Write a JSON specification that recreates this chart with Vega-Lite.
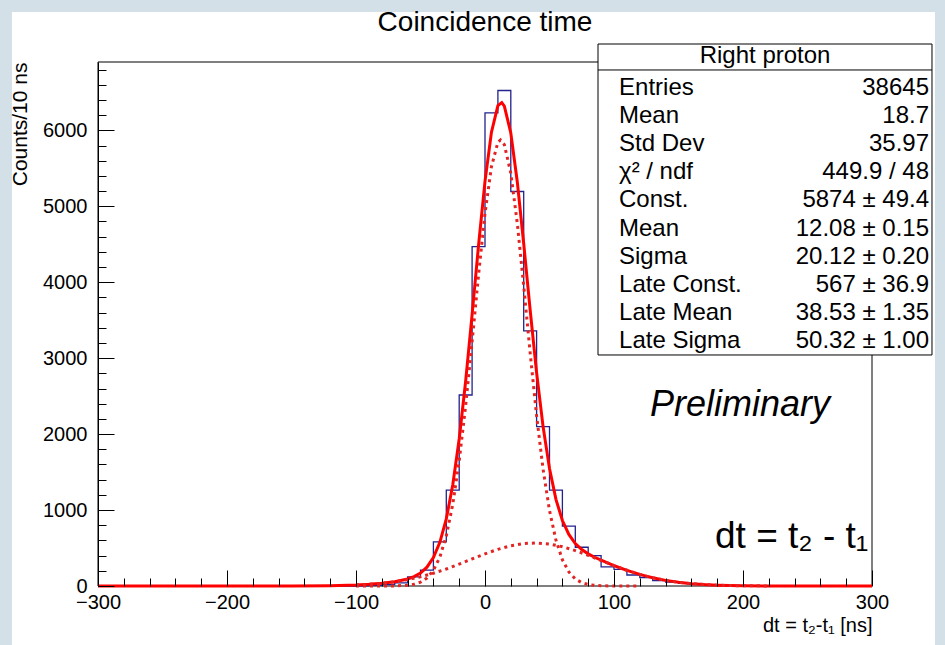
{
  "$schema": "https://vega.github.io/schema/vega-lite/v6.json",
  "width": 774,
  "height": 524,
  "autosize": {"type": "none"},
  "padding": {"left": 98, "top": 62, "right": 73, "bottom": 59},
  "background": "#d4e0e7",
  "config": {"font": "Liberation Sans", "view": {"stroke": null}, "axis": {"zindex": 1}},
  "title": {"text": "Coincidence time", "fontSize": 28, "fontWeight": "normal", "color": "#000000", "anchor": "middle", "frame": "group", "offset": 0, "dy": 47, "baseline": "alphabetic", "zindex": 1},
  "datasets": {
    "hist": [
      {"t": -300, "n": 0}, {"t": -100, "n": 3}, {"t": -90, "n": 8}, {"t": -80, "n": 18}, {"t": -70, "n": 40},
      {"t": -60, "n": 120}, {"t": -50, "n": 210}, {"t": -40, "n": 580}, {"t": -30, "n": 1262}, {"t": -20, "n": 2515},
      {"t": -10, "n": 4470}, {"t": 0, "n": 6230}, {"t": 10, "n": 6525}, {"t": 20, "n": 5195}, {"t": 30, "n": 3360},
      {"t": 40, "n": 2098}, {"t": 50, "n": 1262}, {"t": 60, "n": 788}, {"t": 70, "n": 510}, {"t": 80, "n": 400},
      {"t": 90, "n": 252}, {"t": 100, "n": 220}, {"t": 110, "n": 145}, {"t": 120, "n": 112}, {"t": 130, "n": 72},
      {"t": 140, "n": 52}, {"t": 150, "n": 36}, {"t": 160, "n": 22}, {"t": 170, "n": 15}, {"t": 180, "n": 7},
      {"t": 190, "n": 3}, {"t": 200, "n": 0}, {"t": 300, "n": 0}
    ],
    "fit": [
      {"t": -300, "comp": "total", "y": 0}, {"t": -200, "comp": "total", "y": 0}, {"t": -150, "comp": "total", "y": 0.5},
      {"t": -120, "comp": "total", "y": 4}, {"t": -100, "comp": "total", "y": 12.8}, {"t": -90, "comp": "total", "y": 21.7},
      {"t": -80, "comp": "total", "y": 35.6}, {"t": -70, "comp": "total", "y": 56.8}, {"t": -60, "comp": "total", "y": 93},
      {"t": -55, "comp": "total", "y": 123.4}, {"t": -50, "comp": "total", "y": 170.9}, {"t": -45, "comp": "total", "y": 247.9},
      {"t": -40, "comp": "total", "y": 373.8}, {"t": -35, "comp": "total", "y": 574.9}, {"t": -30, "comp": "total", "y": 883.9},
      {"t": -25, "comp": "total", "y": 1330.5}, {"t": -20, "comp": "total", "y": 1936.3}, {"t": -15, "comp": "total", "y": 2696},
      {"t": -10, "comp": "total", "y": 3573}, {"t": -5, "comp": "total", "y": 4487}, {"t": 0, "comp": "total", "y": 5328},
      {"t": 5, "comp": "total", "y": 5976}, {"t": 10, "comp": "total", "y": 6326}, {"t": 13, "comp": "total", "y": 6366},
      {"t": 15, "comp": "total", "y": 6320}, {"t": 20, "comp": "total", "y": 5966}, {"t": 25, "comp": "total", "y": 5327},
      {"t": 30, "comp": "total", "y": 4510}, {"t": 35, "comp": "total", "y": 3636}, {"t": 40, "comp": "total", "y": 2810},
      {"t": 45, "comp": "total", "y": 2102}, {"t": 50, "comp": "total", "y": 1546.5}, {"t": 55, "comp": "total", "y": 1141},
      {"t": 60, "comp": "total", "y": 862}, {"t": 65, "comp": "total", "y": 678.5}, {"t": 70, "comp": "total", "y": 559.5},
      {"t": 75, "comp": "total", "y": 480}, {"t": 80, "comp": "total", "y": 423.5}, {"t": 85, "comp": "total", "y": 378.4},
      {"t": 90, "comp": "total", "y": 339.3}, {"t": 95, "comp": "total", "y": 303.3}, {"t": 100, "comp": "total", "y": 269.3},
      {"t": 105, "comp": "total", "y": 236.9}, {"t": 110, "comp": "total", "y": 206.8}, {"t": 115, "comp": "total", "y": 178.7},
      {"t": 120, "comp": "total", "y": 152.9}, {"t": 125, "comp": "total", "y": 129.5}, {"t": 130, "comp": "total", "y": 108.7},
      {"t": 140, "comp": "total", "y": 74.2}, {"t": 150, "comp": "total", "y": 48.8}, {"t": 160, "comp": "total", "y": 30.8},
      {"t": 170, "comp": "total", "y": 18.7}, {"t": 180, "comp": "total", "y": 10.9}, {"t": 190, "comp": "total", "y": 6.1},
      {"t": 200, "comp": "total", "y": 3.3}, {"t": 220, "comp": "total", "y": 0.85}, {"t": 250, "comp": "total", "y": 0},
      {"t": 300, "comp": "total", "y": 0},
      {"t": -100, "comp": "core", "y": 0}, {"t": -80, "comp": "core", "y": 0.2}, {"t": -70, "comp": "core", "y": 1.4},
      {"t": -60, "comp": "core", "y": 9.6}, {"t": -55, "comp": "core", "y": 22.6}, {"t": -50, "comp": "core", "y": 50.3},
      {"t": -45, "comp": "core", "y": 105}, {"t": -40, "comp": "core", "y": 206}, {"t": -35, "comp": "core", "y": 380},
      {"t": -30, "comp": "core", "y": 660}, {"t": -25, "comp": "core", "y": 1075}, {"t": -20, "comp": "core", "y": 1648},
      {"t": -15, "comp": "core", "y": 2374}, {"t": -10, "comp": "core", "y": 3217}, {"t": -5, "comp": "core", "y": 4097},
      {"t": 0, "comp": "core", "y": 4905}, {"t": 5, "comp": "core", "y": 5522}, {"t": 10, "comp": "core", "y": 5843},
      {"t": 12, "comp": "core", "y": 5874}, {"t": 15, "comp": "core", "y": 5812}, {"t": 20, "comp": "core", "y": 5436},
      {"t": 25, "comp": "core", "y": 4780}, {"t": 30, "comp": "core", "y": 3951}, {"t": 35, "comp": "core", "y": 3070},
      {"t": 40, "comp": "core", "y": 2243}, {"t": 45, "comp": "core", "y": 1540}, {"t": 50, "comp": "core", "y": 994},
      {"t": 55, "comp": "core", "y": 604}, {"t": 60, "comp": "core", "y": 345}, {"t": 65, "comp": "core", "y": 185},
      {"t": 70, "comp": "core", "y": 93}, {"t": 75, "comp": "core", "y": 44}, {"t": 80, "comp": "core", "y": 20},
      {"t": 85, "comp": "core", "y": 8}, {"t": 90, "comp": "core", "y": 3}, {"t": 100, "comp": "core", "y": 0.4},
      {"t": 120, "comp": "core", "y": 0},
      {"t": -100, "comp": "late", "y": 12.8}, {"t": -90, "comp": "late", "y": 21.7}, {"t": -80, "comp": "late", "y": 35.4},
      {"t": -70, "comp": "late", "y": 55.4}, {"t": -60, "comp": "late", "y": 83.4}, {"t": -50, "comp": "late", "y": 120.6},
      {"t": -40, "comp": "late", "y": 167.8}, {"t": -30, "comp": "late", "y": 224.3}, {"t": -20, "comp": "late", "y": 288.3},
      {"t": -10, "comp": "late", "y": 356.1}, {"t": 0, "comp": "late", "y": 422.9}, {"t": 10, "comp": "late", "y": 482.8},
      {"t": 20, "comp": "late", "y": 529.8}, {"t": 30, "comp": "late", "y": 558.9}, {"t": 40, "comp": "late", "y": 566.8},
      {"t": 50, "comp": "late", "y": 552.5}, {"t": 60, "comp": "late", "y": 517.7}, {"t": 70, "comp": "late", "y": 466.3},
      {"t": 80, "comp": "late", "y": 403.8}, {"t": 90, "comp": "late", "y": 336.1}, {"t": 100, "comp": "late", "y": 268.9},
      {"t": 110, "comp": "late", "y": 206.8}, {"t": 120, "comp": "late", "y": 152.9}, {"t": 130, "comp": "late", "y": 108.7},
      {"t": 140, "comp": "late", "y": 74.2}, {"t": 150, "comp": "late", "y": 48.8}, {"t": 160, "comp": "late", "y": 30.8},
      {"t": 170, "comp": "late", "y": 18.7}, {"t": 180, "comp": "late", "y": 10.9}, {"t": 190, "comp": "late", "y": 6.1},
      {"t": 200, "comp": "late", "y": 3.3}, {"t": 220, "comp": "late", "y": 0.85}
    ]
  },
  "layer": [
    {
      "data": {"values": [{}]},
      "mark": {"type": "rect", "fill": "#ffffff"},
      "encoding": {
        "x": {"datum": -366.7, "type": "quantitative", "scale": {"domain": [-300, 300], "nice": false, "zero": false}, "axis": null},
        "x2": {"datum": 348.8},
        "y": {"datum": 7558, "type": "quantitative", "scale": {"domain": [0, 6900], "nice": false}, "axis": null},
        "y2": {"datum": -777}
      }
    },
    {
      "data": {"values": [{}]},
      "mark": {"type": "rect", "filled": false, "stroke": "#000000", "strokeWidth": 1},
      "encoding": {
        "x": {"datum": -300, "type": "quantitative", "scale": {"domain": [-300, 300], "nice": false, "zero": false}, "axis": null},
        "x2": {"datum": 300},
        "y": {"datum": 0, "type": "quantitative", "scale": {"domain": [0, 6900], "nice": false}, "axis": null},
        "y2": {"datum": 6900}
      }
    },
    {
      "data": {"name": "hist"},
      "mark": {"type": "line", "interpolate": "step-after", "color": "#22238c", "strokeWidth": 1.3},
      "encoding": {
        "x": {"field": "t", "type": "quantitative", "scale": {"domain": [-300, 300], "nice": false, "zero": false},
          "axis": {"orient": "bottom", "zindex": 2, "values": [-300, -200, -100, 0, 100, 200, 300], "format": "d", "tickSize": -16, "tickColor": "#000000", "domain": false,
            "grid": false, "labelFontSize": 20, "labelColor": "#000000", "labelPadding": 22, "labelFlush": false, "labelOverlap": false,
            "title": "dt = t₂-t₁ [ns]", "titleFontSize": 20, "titleFontWeight": "normal", "titleColor": "#000000",
            "titleX": 774, "titleY": 45, "titleAlign": "right", "titleBaseline": "alphabetic", "titleAnchor": null}},
        "y": {"field": "n", "type": "quantitative", "scale": {"domain": [0, 6900], "nice": false},
          "axis": {"orient": "left", "zindex": 2, "values": [0, 1000, 2000, 3000, 4000, 5000, 6000], "format": "d", "tickSize": -16, "tickColor": "#000000", "domain": true,
            "domainColor": "#000000", "grid": false, "labelFontSize": 20, "labelColor": "#000000", "labelPadding": 27, "labelFlush": false, "labelOverlap": false,
            "title": "Counts/10 ns", "titleFontSize": 21, "titleFontWeight": "normal", "titleColor": "#000000", "titleAngle": 270,
            "titleX": -78, "titleY": 0, "titleAlign": "right", "titleBaseline": "middle", "titleAnchor": null}}
      }
    },
    {
      "data": {"name": "fit"},
      "transform": [{"filter": "datum.comp === 'total'"}],
      "mark": {"type": "line", "color": "#ff0000", "strokeWidth": 3},
      "encoding": {
        "x": {"field": "t", "type": "quantitative", "scale": {"domain": [-300, 300], "nice": false, "zero": false},
          "axis": {"orient": "bottom", "zindex": 2, "values": [-280, -260, -240, -220, -180, -160, -140, -120, -80, -60, -40, -20, 20, 40, 60, 80, 120, 140, 160, 180, 220, 240, 260, 280],
            "tickSize": -8, "tickColor": "#000000", "labels": false, "domain": false, "grid": false, "title": null}},
        "y": {"field": "y", "type": "quantitative", "scale": {"domain": [0, 6900], "nice": false},
          "axis": {"orient": "left", "zindex": 2, "values": [200, 400, 600, 800, 1200, 1400, 1600, 1800, 2200, 2400, 2600, 2800, 3200, 3400, 3600, 3800, 4200, 4400, 4600, 4800, 5200, 5400, 5600, 5800, 6200, 6400, 6600, 6800],
            "tickSize": -8, "tickColor": "#000000", "labels": false, "domain": false, "grid": false, "title": null}}
      }
    },
    {
      "data": {"name": "fit"},
      "transform": [{"filter": "datum.comp === 'core'"}],
      "mark": {"type": "line", "color": "#e32424", "strokeWidth": 3, "strokeDash": [3, 4]},
      "encoding": {
        "x": {"field": "t", "type": "quantitative", "scale": {"domain": [-300, 300], "nice": false, "zero": false}, "axis": null},
        "y": {"field": "y", "type": "quantitative", "scale": {"domain": [0, 6900], "nice": false}, "axis": null}
      }
    },
    {
      "data": {"name": "fit"},
      "transform": [{"filter": "datum.comp === 'late'"}],
      "mark": {"type": "line", "color": "#e32424", "strokeWidth": 3, "strokeDash": [3, 4]},
      "encoding": {
        "x": {"field": "t", "type": "quantitative", "scale": {"domain": [-300, 300], "nice": false, "zero": false}, "axis": null},
        "y": {"field": "y", "type": "quantitative", "scale": {"domain": [0, 6900], "nice": false}, "axis": null}
      }
    },
    {
      "data": {"values": [{}]},
      "mark": {"type": "rect", "fill": "#ffffff", "stroke": "#000000", "strokeWidth": 1},
      "encoding": {
        "x": {"datum": 87.6, "type": "quantitative", "scale": {"domain": [-300, 300], "nice": false, "zero": false}, "axis": null},
        "x2": {"datum": 346.5},
        "y": {"datum": 7137, "type": "quantitative", "scale": {"domain": [0, 6900], "nice": false}, "axis": null},
        "y2": {"datum": 3042}
      }
    },
    {
      "data": {"values": [{}]},
      "mark": {"type": "rule", "color": "#000000", "strokeWidth": 1},
      "encoding": {
        "x": {"datum": 87.6, "type": "quantitative", "scale": {"domain": [-300, 300], "nice": false, "zero": false}, "axis": null},
        "x2": {"datum": 346.5},
        "y": {"datum": 6795, "type": "quantitative", "scale": {"domain": [0, 6900], "nice": false}, "axis": null}
      }
    },
    {
      "data": {"values": [{}]},
      "mark": {"type": "text", "text": "Right proton", "fontSize": 24, "align": "center", "baseline": "alphabetic", "color": "#000000"},
      "encoding": {
        "x": {"datum": 217.1, "type": "quantitative", "scale": {"domain": [-300, 300], "nice": false, "zero": false}, "axis": null},
        "y": {"datum": 6887, "type": "quantitative", "scale": {"domain": [0, 6900], "nice": false}, "axis": null}
      }
    },
    {
      "data": {"values": [{}]},
      "mark": {"type": "text", "text": ["Entries", "Mean", "Std Dev", "χ² / ndf", "Const.", "Mean", "Sigma", "Late Const.", "Late Mean", "Late Sigma"],
        "fontSize": 24, "lineHeight": 28.2, "align": "left", "baseline": "alphabetic", "color": "#000000"},
      "encoding": {
        "x": {"datum": 103.9, "type": "quantitative", "scale": {"domain": [-300, 300], "nice": false, "zero": false}, "axis": null},
        "y": {"datum": 6472, "type": "quantitative", "scale": {"domain": [0, 6900], "nice": false}, "axis": null}
      }
    },
    {
      "data": {"values": [{}]},
      "mark": {"type": "text", "text": ["38645", "18.7", "35.97", "449.9 / 48", "5874 ± 49.4", "12.08 ± 0.15", "20.12 ± 0.20", "567 ± 36.9", "38.53 ± 1.35", "50.32 ± 1.00"],
        "fontSize": 24, "lineHeight": 28.2, "align": "right", "baseline": "alphabetic", "color": "#000000"},
      "encoding": {
        "x": {"datum": 344.2, "type": "quantitative", "scale": {"domain": [-300, 300], "nice": false, "zero": false}, "axis": null},
        "y": {"datum": 6472, "type": "quantitative", "scale": {"domain": [0, 6900], "nice": false}, "axis": null}
      }
    },
    {
      "data": {"values": [{}]},
      "mark": {"type": "text", "text": "Preliminary", "fontSize": 36, "fontStyle": "italic", "align": "left", "baseline": "alphabetic", "color": "#000000"},
      "encoding": {
        "x": {"datum": 127.9, "type": "quantitative", "scale": {"domain": [-300, 300], "nice": false, "zero": false}, "axis": null},
        "y": {"datum": 2239, "type": "quantitative", "scale": {"domain": [0, 6900], "nice": false}, "axis": null}
      }
    },
    {
      "data": {"values": [{}]},
      "mark": {"type": "text", "text": "dt = t₂ - t₁", "fontSize": 37, "align": "left", "baseline": "alphabetic", "color": "#000000"},
      "encoding": {
        "x": {"datum": 178.3, "type": "quantitative", "scale": {"domain": [-300, 300], "nice": false, "zero": false}, "axis": null},
        "y": {"datum": 500, "type": "quantitative", "scale": {"domain": [0, 6900], "nice": false}, "axis": null}
      }
    }
  ],
  "resolve": {"axis": {"x": "independent", "y": "independent"}}
}
